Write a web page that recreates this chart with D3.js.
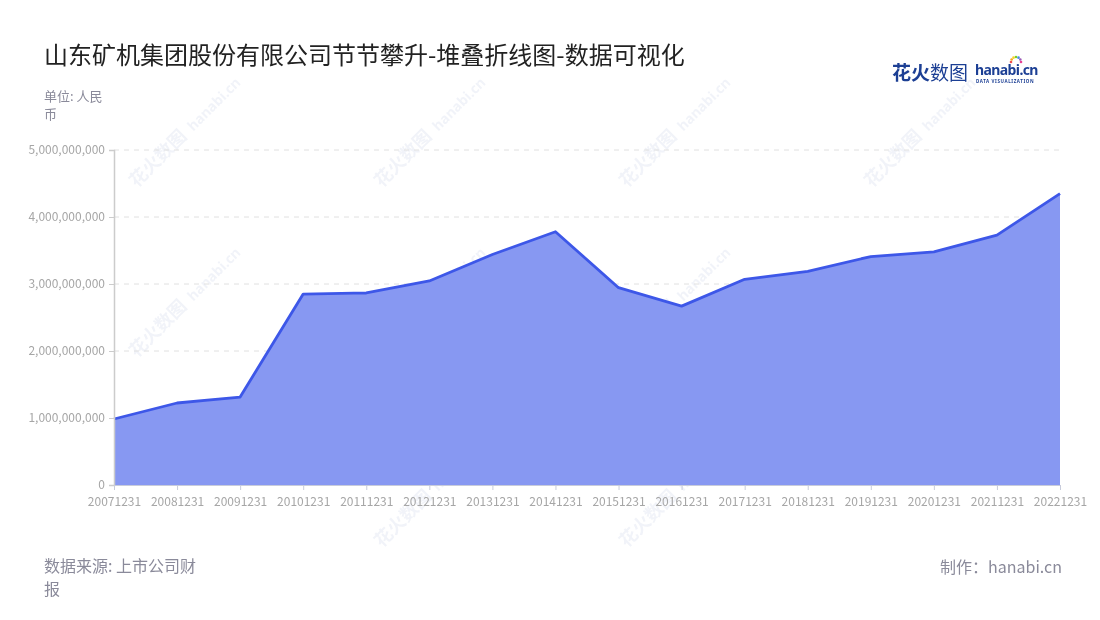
<!DOCTYPE html>
<html><head><meta charset="utf-8">
<script src="https://cdn.jsdelivr.net/npm/d3@7"></script>
<style>body{margin:0;background:#fff;font-family:"Noto Sans CJK SC","Noto Sans",sans-serif;}</style>
</head><body><svg id="c" width="1100" height="620"></svg>
<script>
const categories = ["20071231","20081231","20091231","20101231","20111231","20121231","20131231","20141231","20151231","20161231","20171231","20181231","20191231","20201231","20211231","20221231"];
const values = [985000000,1224000000,1313000000,2850000000,2866000000,3045000000,3440000000,3780000000,2945000000,2670000000,3070000000,3190000000,3410000000,3480000000,3730000000,4350000000];
const yTicks = [0,1000000000,2000000000,3000000000,4000000000,5000000000];

const svg = d3.select("#c");
const font = '"Noto Sans CJK SC","Noto Sans",sans-serif';
const L=114,R=1060,T=150,B=485;

// watermarks
const wm = svg.append("g").attr("opacity",0.06);
[[165,160],[410,160],[655,160],[900,160],[165,330],[410,330],[655,330],[900,330],[410,520],[655,520]].forEach(([x,y])=>{
  const g = wm.append("g").attr("transform",`translate(${x},${y}) rotate(-45)`);
  g.append("text").attr("x",-40).attr("y",0).attr("font-size",18).attr("font-weight","bold").attr("fill","#1c3f94").attr("font-family",font).text("花火数图");
  g.append("text").attr("x",40).attr("y",0).attr("font-size",14).attr("font-weight","bold").attr("fill","#1c3f94").attr("font-family","Noto Sans").text("hanabi.cn");
});

const x = d3.scalePoint().domain(categories).range([L,R]);
const y = d3.scaleLinear().domain([0,5000000000]).range([B,T]);

// grid
svg.append("g").selectAll("line").data(yTicks.slice(1)).join("line")
  .attr("x1",L).attr("x2",R).attr("y1",d=>y(d)).attr("y2",d=>y(d))
  .attr("stroke","#e0e0e0").attr("stroke-dasharray","5,5");

// area
svg.append("path").datum(values)
  .attr("d",d3.area().x((d,i)=>x(categories[i])).y0(B).y1(d=>y(d)))
  .attr("fill","#8798f2");
svg.append("path").datum(values)
  .attr("d",d3.line().x((d,i)=>x(categories[i])).y(d=>y(d)))
  .attr("fill","none").attr("stroke","#3d57e8").attr("stroke-width",2.8).attr("stroke-linejoin","round");

// y axis
const ya = svg.append("g").attr("transform",`translate(${L},0)`)
  .call(d3.axisLeft(y).tickValues(yTicks).tickFormat(d3.format(",")).tickSize(5).tickPadding(4));
ya.select(".domain").attr("stroke","#cccccc").attr("stroke-width",1.5);
ya.selectAll(".tick line").attr("stroke","#cccccc");
ya.selectAll("text").attr("fill","#a6a6a6").attr("font-size",12).attr("font-family",font);

// x axis
const xa = svg.append("g").attr("transform",`translate(0,${B})`)
  .call(d3.axisBottom(x).tickSize(5).tickPadding(7));
xa.select(".domain").attr("stroke","#c8ccdb").attr("d",`M${L},0.5H${R}`);
xa.selectAll(".tick line").attr("stroke","#c8ccdb");
xa.selectAll("text").attr("fill","#a6a6a6").attr("font-size",12).attr("font-family",font);

// title
svg.append("text").attr("x",44).attr("y",64).attr("font-size",24).attr("fill","#222").attr("font-family",font)
  .text("山东矿机集团股份有限公司节节攀升-堆叠折线图-数据可视化");
svg.append("text").attr("x",44).attr("y",101).attr("font-size",13).attr("fill","#8a8a9a").attr("font-family",font).text("单位: 人民");
svg.append("text").attr("x",44).attr("y",119).attr("font-size",13).attr("fill","#8a8a9a").attr("font-family",font).text("币");

// footer
svg.append("text").attr("x",44).attr("y",572).attr("font-size",16).attr("fill","#8a8a9a").attr("font-family",font).text("数据来源: 上市公司财");
svg.append("text").attr("x",44).attr("y",595).attr("font-size",16).attr("fill","#8a8a9a").attr("font-family",font).text("报");
svg.append("text").attr("x",1062).attr("y",573).attr("text-anchor","end").attr("font-size",16).attr("fill","#8a8a9a").attr("font-family",font).text("制作：hanabi.cn");

// logo
svg.append("text").attr("x",892).attr("y",80).attr("font-size",19).attr("font-weight","bold").attr("fill","#1c3f94").attr("font-family",font).text("花火");
svg.append("text").attr("x",930).attr("y",80).attr("font-size",19).attr("fill","#1c3f94").attr("font-family",font).text("数图");
svg.append("text").attr("x",975).attr("y",75).attr("font-size",14).attr("font-weight","bold").attr("fill","#1c3f94").attr("font-family","Noto Sans").attr("letter-spacing",-0.6).text("hanabi.cn");
svg.append("text").attr("x",976).attr("y",82.5).attr("font-size",4.5).attr("font-weight","bold").attr("fill","#1c3f94").attr("font-family","Noto Sans").attr("letter-spacing",0.6).text("DATA VISUALIZATION");
const sp = svg.append("g").attr("transform","translate(1016,62)");
["#f04e4e","#f5a623","#f8d12f","#7ed321","#4a90e2","#9b59b6","#e84393"].forEach((c,i)=>{
  const a = -Math.PI + i*Math.PI/6;
  sp.append("circle").attr("cx",5*Math.cos(a)).attr("cy",5*Math.sin(a)).attr("r",1.3).attr("fill",c);
});
</script></body></html>
